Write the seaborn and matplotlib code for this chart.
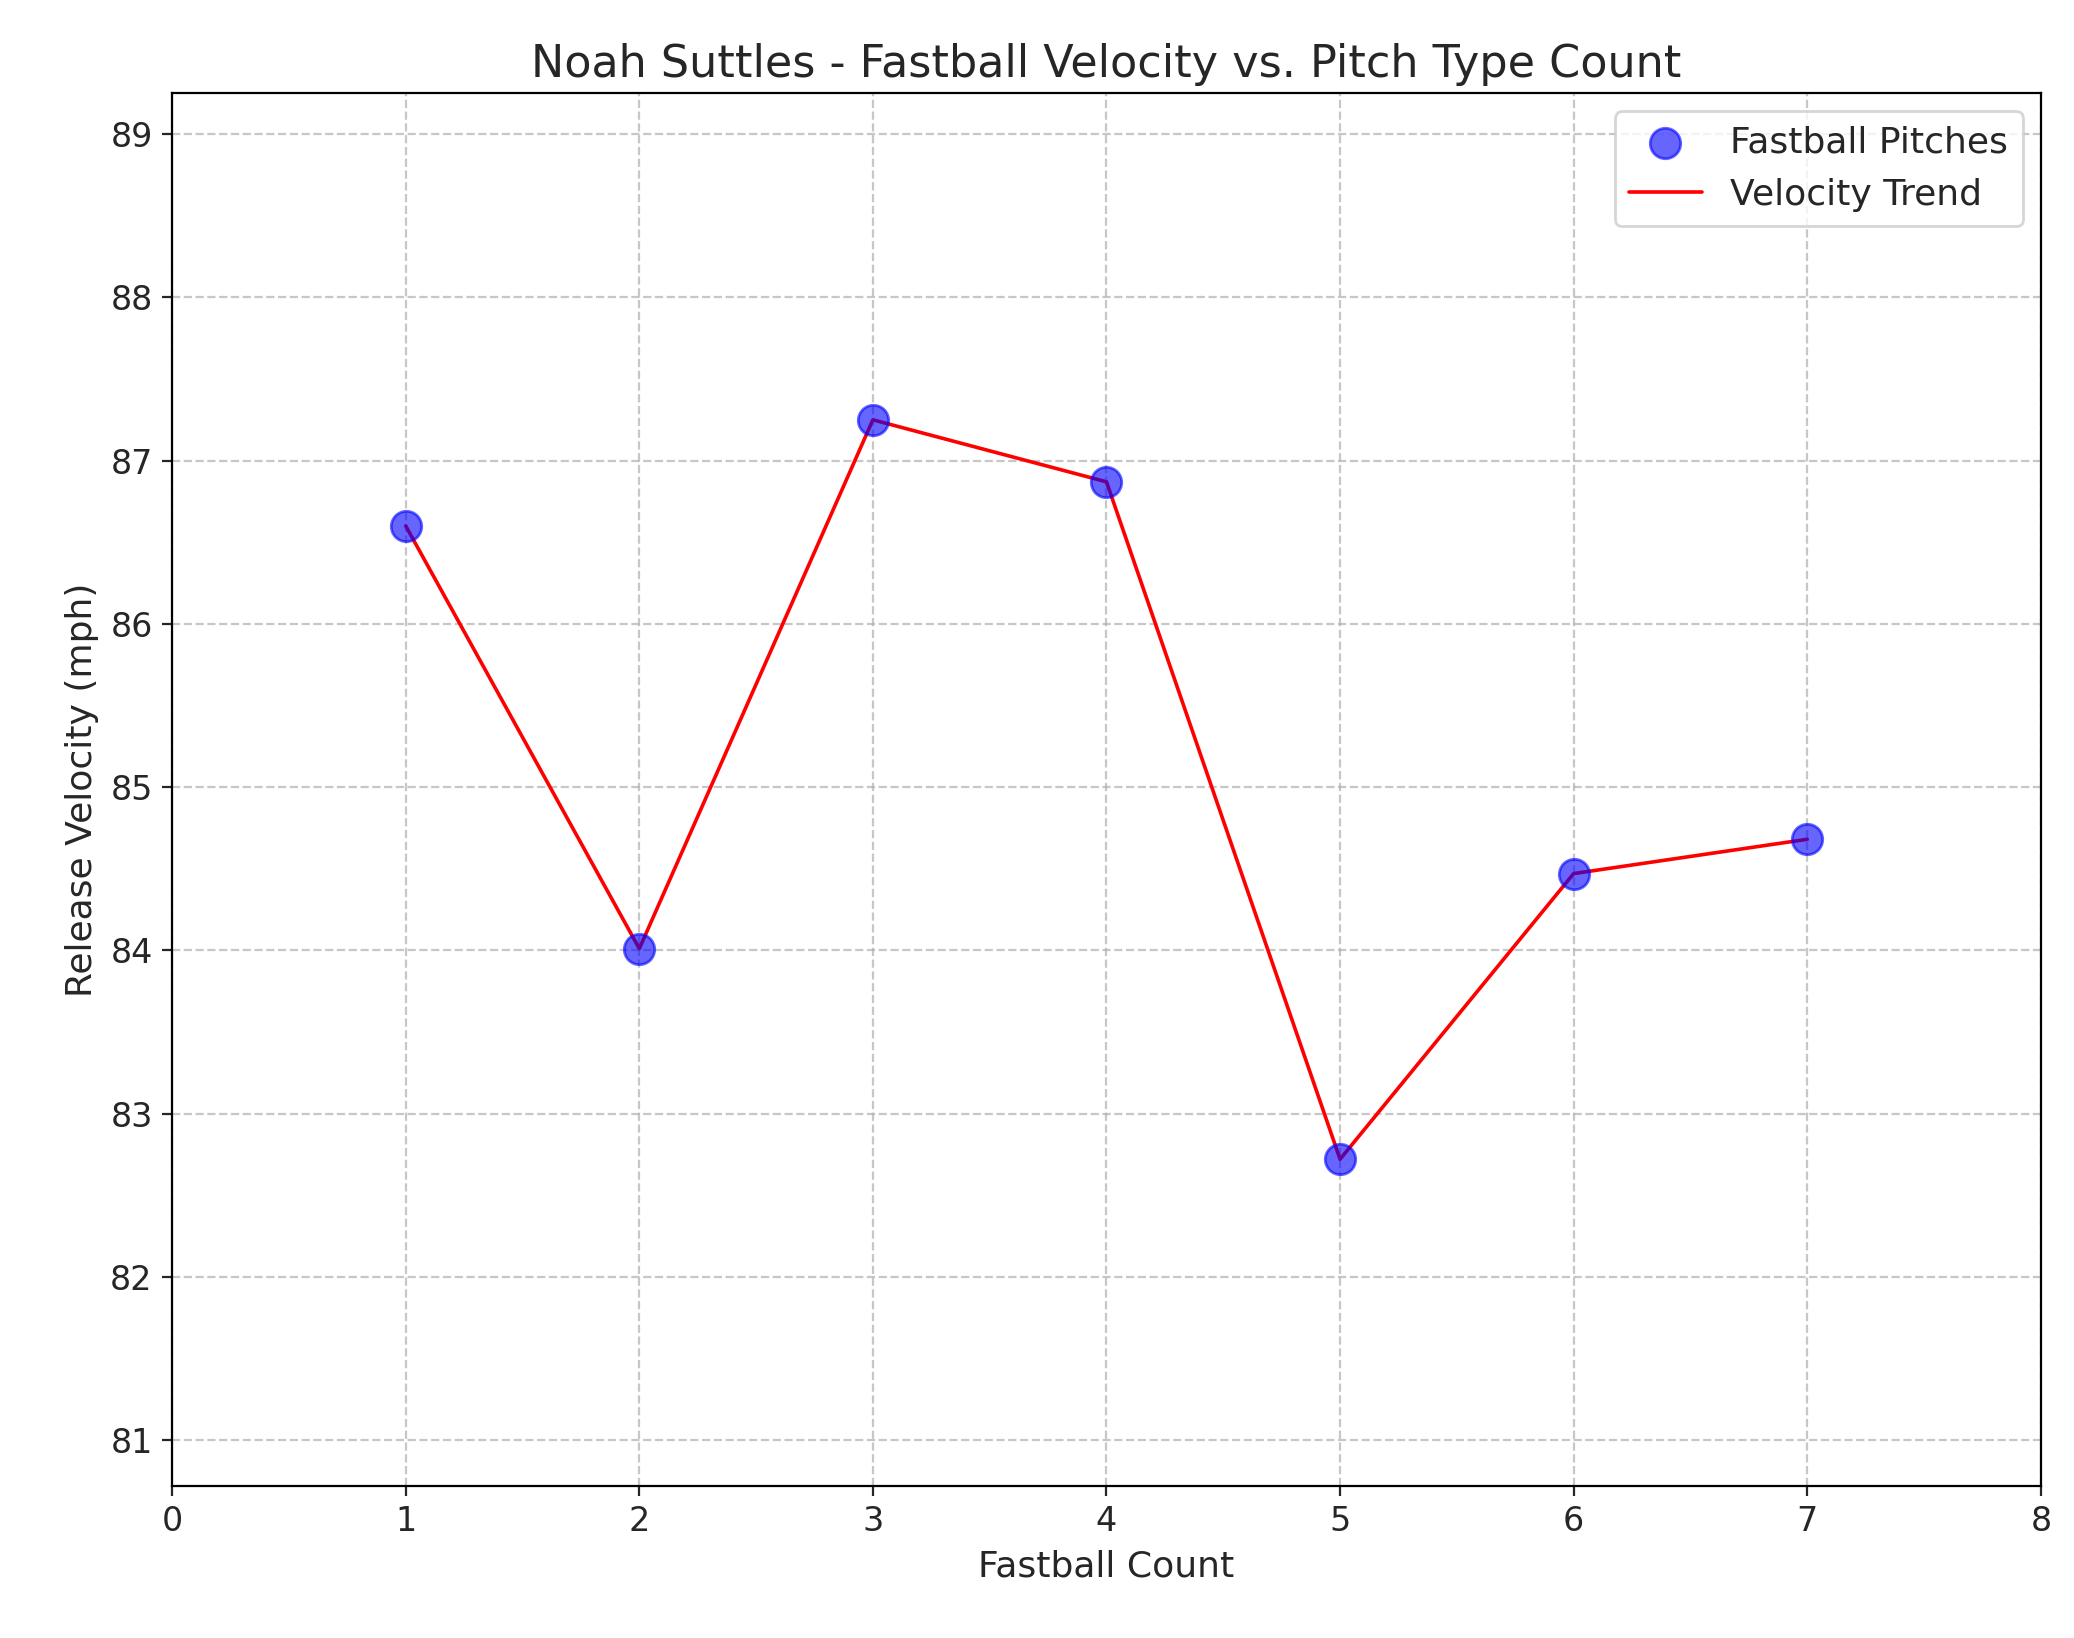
import matplotlib
matplotlib.use("Agg")
import matplotlib.pyplot as plt
import seaborn as sns
import pandas as pd

pitch_count = [1, 2, 3, 4, 5, 6, 7]
velocity = [86.6, 84.01, 87.25, 86.87, 82.72, 84.47, 84.68]

df = pd.DataFrame({"count": pitch_count, "velo": velocity})

sns.set_style("ticks")
plt.rcParams["font.family"] = ["DejaVu Sans"]
fig, ax = plt.subplots(figsize=(10.37, 8.19), dpi=200)
fig.subplots_adjust(left=0.083, right=0.984, top=0.943, bottom=0.093)

sns.scatterplot(data=df, x="count", y="velo", ax=ax, color="blue", alpha=0.6,
                s=120, edgecolor="blue", linewidth=1, label="Fastball Pitches", zorder=3)
sns.lineplot(data=df, x="count", y="velo", ax=ax, color="red", linewidth=1.3,
             label="Velocity Trend", zorder=2)

ax.set_xlim(0, 8)
ax.set_ylim(80.72, 89.25)
ax.set_xticks(range(0, 9))
ax.set_yticks(range(81, 90))
ax.grid(True, linestyle="--", alpha=0.7, color="#b0b0b0")
ax.tick_params(labelsize=12)
ax.set_title("Noah Suttles - Fastball Velocity vs. Pitch Type Count", fontsize=16)
ax.set_xlabel("Fastball Count", fontsize=13)
ax.set_ylabel("Release Velocity (mph)", fontsize=13)
ax.legend(loc="upper right", fontsize=13)
for s in ax.spines.values():
    s.set_color("black")

fig.savefig("out.png", dpi=200)
